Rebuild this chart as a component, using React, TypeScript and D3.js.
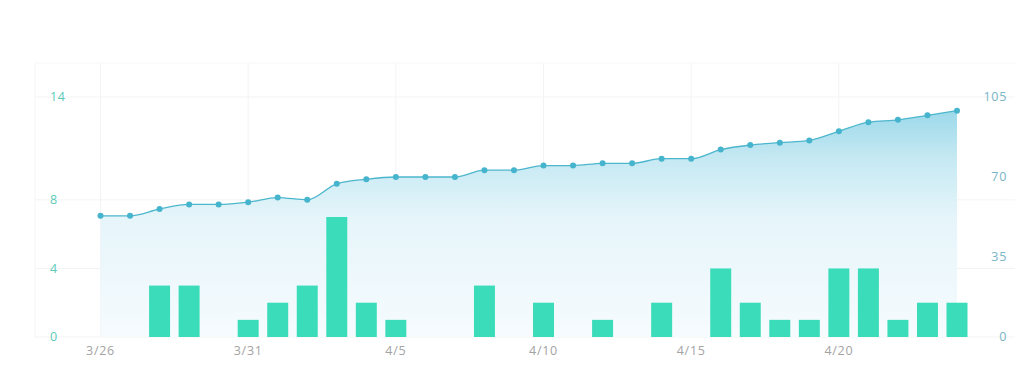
import React from "react";
import * as d3 from "d3";

const dates = [
  "3/26","3/27","3/28","3/29","3/30","3/31","4/1","4/2","4/3","4/4","4/5","4/6","4/7","4/8","4/9",
  "4/10","4/11","4/12","4/13","4/14","4/15","4/16","4/17","4/18","4/19","4/20","4/21","4/22","4/23","4/24",
];
const daily = [0,0,3,3,0,1,2,3,7,2,1,0,0,3,0,2,0,1,0,2,0,4,2,1,1,4,4,1,2,2];
const cumulative = [53,53,56,58,58,59,61,60,67,69,70,70,70,73,73,75,75,76,76,78,78,82,84,85,86,90,94,95,97,99];
const leftTicks = [0,4,8,14];
const rightTicks = [0,35,70,105];
const xTickLabels = ["3/26","3/31","4/5","4/10","4/15","4/20"];

const W = 1024, H = 372;
const plotL = 35, plotR = 1015, plotT = 63, plotB = 337;

export default function App() {
  const x = d3.scalePoint<string>().domain(dates).range([100.5, 957]);
  const step = x.step();
  const yL = d3.scaleLinear().domain([0, 14]).range([plotB, 97]);
  const yR = d3.scaleLinear().domain([0, 105]).range([plotB, 97]);
  const barW = step * 0.71;

  const pts = dates.map((d, i) => [x(d)!, yR(cumulative[i])] as [number, number]);
  const line = d3.line().curve(d3.curveMonotoneX)(pts) || "";
  const area = d3.area().curve(d3.curveMonotoneX).x(p => p[0]).y0(plotB).y1(p => p[1])(pts) || "";

  const font = "'Open Sans', 'DejaVu Sans', sans-serif";

  return (
    <svg width={W} height={H} style={{ position: "absolute", left: 0, top: 0, background: "#fff" }}>
      <defs>
        <linearGradient id="ag" gradientUnits="userSpaceOnUse" x1="0" y1={100} x2="0" y2={plotB}>
          <stop offset="0%" stopColor="#93d5e8" />
          <stop offset="25%" stopColor="#c6e9f3" />
          <stop offset="50%" stopColor="#e6f5fa" />
          <stop offset="100%" stopColor="#f6fbfe" />
        </linearGradient>
      </defs>
      {/* plot border */}
      <line x1={plotL} x2={plotL} y1={plotT} y2={plotB} stroke="#f5f5f5" />
      <line x1={plotL} x2={plotR} y1={plotT} y2={plotT} stroke="#f8f8f8" />
      {/* horizontal grid */}
      {leftTicks.map(t => (
        <line key={"h" + t} x1={plotL} x2={plotR} y1={yL(t)} y2={yL(t)} stroke="#f3f3f3" />
      ))}
      {/* vertical grid */}
      {xTickLabels.map(t => (
        <line key={"v" + t} x1={x(t)} x2={x(t)} y1={plotT} y2={plotB} stroke="#f3f3f3" />
      ))}
      <path d={area} fill="url(#ag)" />
      {dates.map((d, i) => daily[i] > 0 ? (
        <rect key={"b" + d} x={x(d)! - barW / 2} y={yL(daily[i])} width={barW} height={plotB - yL(daily[i])} fill="#3adcb9" />
      ) : null)}
      <path d={line} fill="none" stroke="#4cb6cd" strokeWidth={1.3} />
      {pts.map((p, i) => (
        <circle key={"c" + i} cx={p[0]} cy={p[1]} r={3} fill="#45b4cc" />
      ))}
      {leftTicks.map(t => (
        <text key={"lt" + t} x={50} y={yL(t)} dy="0.35em" fontSize={12.5} fill="#5ccbb9" fontFamily={font} letterSpacing={0.7}>{t}</text>
      ))}
      {rightTicks.map(t => (
        <text key={"rt" + t} x={1007} y={yR(t)} dy="0.35em" textAnchor="end" fontSize={12.5} fill="#78b6c6" fontFamily={font} letterSpacing={0.7}>{t}</text>
      ))}
      {xTickLabels.map(t => (
        <text key={"xt" + t} x={x(t)} y={355} textAnchor="middle" fontSize={12.5} fill="#a3a3a3" fontFamily={font} letterSpacing={0.7}>{t}</text>
      ))}
    </svg>
  );
}
